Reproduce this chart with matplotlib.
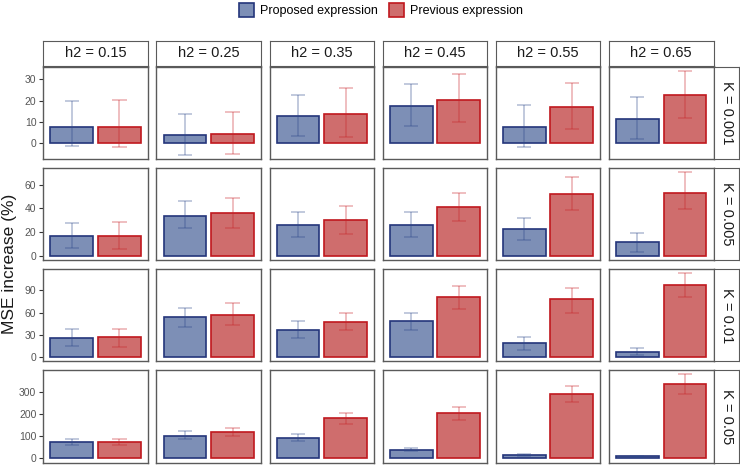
import matplotlib
matplotlib.use("Agg")
import matplotlib.pyplot as plt
from matplotlib.patches import Patch

plt.rcParams['font.family'] = ['Liberation Sans', 'DejaVu Sans']

# facets
h2_labels = ["h2 = 0.15", "h2 = 0.25", "h2 = 0.35", "h2 = 0.45", "h2 = 0.55", "h2 = 0.65"]
k_labels = ["K = 0.001", "K = 0.005", "K = 0.01", "K = 0.05"]
methods = ["Proposed expression", "Previous expression"]
row_ticks = [[0, 10, 20, 30], [0, 20, 40, 60], [0, 30, 60, 90], [0, 100, 200, 300]]

# MSE increase (%) per K row, per h2 column
proposed_mean = [
    [7.6, 3.9, 12.9, 17.6, 7.3, 11.5],
    [16.9, 33.6, 25.8, 26.4, 22.8, 11.9],
    [26.0, 53.8, 36.2, 48.5, 18.5, 6.6],
    [73, 104, 93, 40, 16, 10]]
proposed_lo = [
    [-1.4, -5.6, 3.3, 7.9, -1.7, 1.9],
    [6.9, 23.6, 16.4, 15.8, 13.3, 3.6],
    [15.4, 40.1, 25.6, 36.6, 10.1, 2.6],
    [60, 90, 78, 33, 12, 7]]
proposed_hi = [
    [19.9, 13.7, 22.7, 27.6, 17.9, 21.6],
    [27.8, 46.1, 36.9, 36.9, 31.7, 19.4],
    [37.5, 66.6, 48.1, 60.0, 26.9, 11.9],
    [88, 125, 109, 46, 21, 13]]
previous_mean = [
    [7.6, 4.2, 13.8, 20.4, 16.8, 22.7],
    [17.2, 35.8, 30.6, 41.1, 52.2, 53.3],
    [26.9, 57.3, 47.2, 80.3, 77.6, 97.0],
    [76, 122, 184, 204, 293, 339]]
previous_lo = [
    [-1.9, -5.0, 2.8, 9.8, 6.4, 11.7],
    [6.1, 23.6, 18.6, 29.4, 38.6, 39.7],
    [13.2, 43.2, 36.2, 65.3, 60.0, 80.3],
    [60, 104, 158, 176, 257, 294]]
previous_hi = [
    [20.5, 14.8, 25.8, 32.5, 28.5, 34.1],
    [28.6, 48.9, 42.2, 52.8, 66.9, 70.8],
    [37.5, 72.3, 60.0, 96.2, 92.6, 112.9],
    [90, 140, 207, 234, 328, 382]]

fills = ["#7D8FB6", "#CF6D6D"]
edges = ["#24357A", "#C0181E"]
errcols = ["#2E4A8B", "#C8252B"]
border = "#5A5A5A"

W, H = 740, 466
fig = plt.figure(figsize=(W / 100, H / 100), dpi=100)


def px_rect(left, top, w, h):
    return [left / W, 1 - (top + h) / H, w / W, h / H]


col_left = [43.3, 156.4, 269.5, 382.6, 495.7, 608.8]
panel_w = 104.7
row_top = [66.5, 167.7, 268.9, 370.1]
panel_h = 92.5

for r in range(4):
    means = [proposed_mean[r], previous_mean[r]]
    los = [proposed_lo[r], previous_lo[r]]
    his = [proposed_hi[r], previous_hi[r]]
    lo_all = min(0, min(proposed_lo[r]), min(previous_lo[r]))
    hi_all = max(max(proposed_hi[r]), max(previous_hi[r]))
    pad = (hi_all - lo_all) * 0.05
    for c in range(6):
        ax = fig.add_axes(px_rect(col_left[c], row_top[r], panel_w, panel_h))
        for m in range(2):
            x = m + 1
            ax.bar(x, means[m][c], width=0.9, color=fills[m], edgecolor=edges[m],
                   linewidth=1.2, zorder=2)
            ax.vlines(x, los[m][c], his[m][c], color=errcols[m], alpha=0.35,
                      linewidth=1.2, zorder=3)
            ax.hlines([los[m][c], his[m][c]], x - 0.15, x + 0.15, color=errcols[m],
                      alpha=0.35, linewidth=1.2, zorder=3)
        ax.set_xlim(0.4, 2.6)
        ax.set_ylim(lo_all - pad, hi_all + pad)
        ax.set_xticks([])
        for s in ax.spines.values():
            s.set_color(border)
            s.set_linewidth(1.0)
        if c == 0:
            ax.set_yticks(row_ticks[r])
            ax.tick_params(axis='y', length=3, width=0.8, color="#333333",
                           labelcolor="#555555", labelsize=7.5, pad=2)
        else:
            ax.set_yticks([])

        # top strips
        if r == 0:
            sax = fig.add_axes(px_rect(col_left[c], 40.5, panel_w, 25))
            sax.set_xticks([])
            sax.set_yticks([])
            for s in sax.spines.values():
                s.set_color(border)
            sax.text(0.5, 0.5, h2_labels[c], ha='center', va='center',
                     fontsize=10.5, color="#1A1A1A", transform=sax.transAxes)

    # right strips
    rax = fig.add_axes(px_rect(713.8, row_top[r], 25.5, panel_h))
    rax.set_xticks([])
    rax.set_yticks([])
    for s in rax.spines.values():
        s.set_color(border)
    rax.text(0.5, 0.5, k_labels[r], ha='center', va='center', rotation=270,
             fontsize=10.5, color="#1A1A1A", transform=rax.transAxes)

fig.text(10 / W, 1 - 264 / H, "MSE increase (%)", rotation=90, ha='center',
         va='center', fontsize=12.5, color="#1A1A1A")

handles = [Patch(facecolor=fills[i], edgecolor=edges[i], linewidth=1.2) for i in range(2)]
fig.legend(handles, methods, ncol=2, loc='center', bbox_to_anchor=(381 / W, 1 - 10 / H),
           frameon=False, fontsize=9, handlelength=1.2, handleheight=1.3,
           handletextpad=0.5, columnspacing=0.9, borderpad=0)

fig.savefig("out.png", dpi=100)
